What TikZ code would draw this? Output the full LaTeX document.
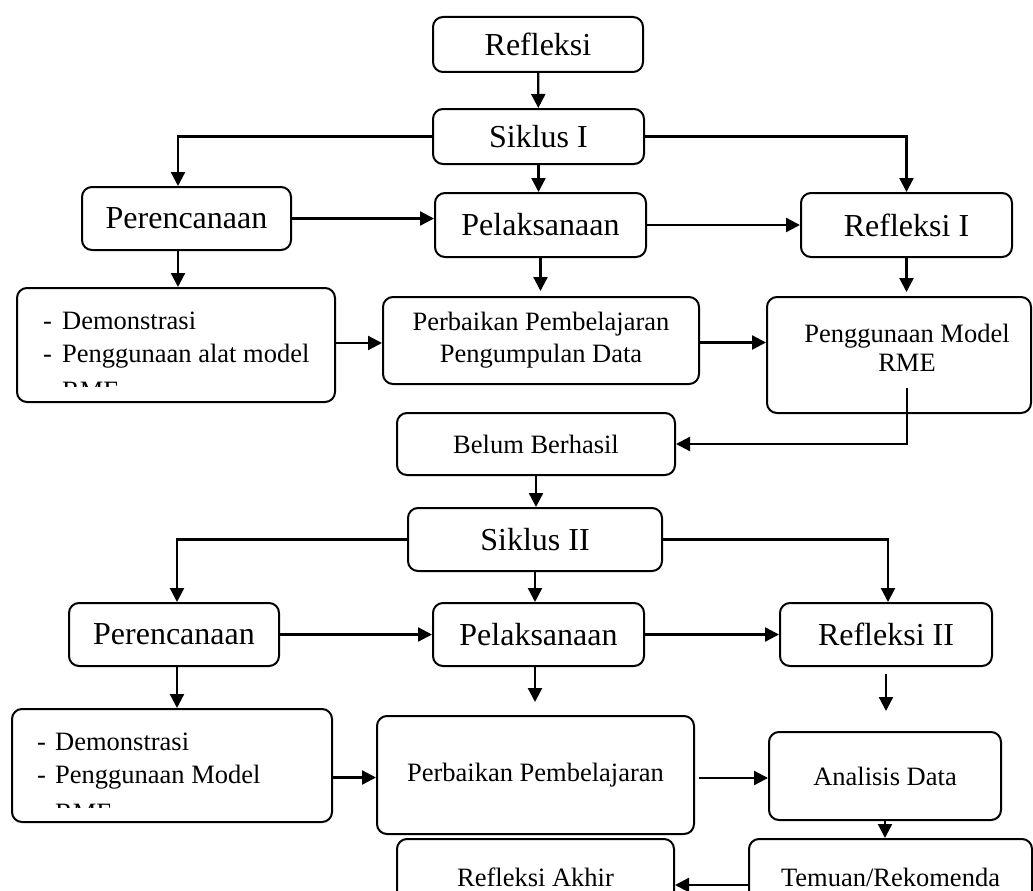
\documentclass[tikz,border=0pt]{standalone}
\usepackage{fontspec}
\setmainfont{Liberation Serif}
\usetikzlibrary{arrows.meta,positioning}

\begin{document}
\begin{tikzpicture}[x=1pt,y=-1pt]
\tikzstyle{box} = [rectangle, rounded corners=10pt, draw=black, line width=2pt, inner sep=0pt]
\tikzstyle{big} = [box, font=\fontsize{32}{38}\selectfont]
\tikzstyle{txt} = [align=center, inner sep=0pt, font=\fontsize{26.5}{32}\selectfont]
\tikzstyle{small} = [box, txt]
\tikzstyle{item} = [anchor=base west, inner sep=0pt, font=\fontsize{26.5}{32}\selectfont]
\tikzstyle{arrow} = [line width=2.3pt,-{Triangle[length=14pt,width=14pt]}]

\useasboundingbox (0,0) rectangle (1033,891);
\clip (0,0) rectangle (1033,891);
\fill[white] (0,0) rectangle (1033,891);

% siklus I
\node (refl) [big, minimum width=210pt, minimum height=55pt] at (538,44.5) {Refleksi};
\node (sik1) [big, minimum width=211pt, minimum height=55pt] at (538.5,136.5) {Siklus I};
\node (per1) [big, minimum width=209pt, minimum height=63pt] at (186.5,218.5) {Perencanaan};
\node (pel1) [big, minimum width=211pt, minimum height=64pt] at (540.5,225) {Pelaksanaan};
\node (ref1) [big, minimum width=211pt, minimum height=64pt] at (906.5,225) {Refleksi I};

\node (dem1) [box, minimum width=318pt, minimum height=114pt] at (176,345) {};
\begin{scope}
\clip (17,288) rectangle (335,386);
\foreach \y/\t [count=\i] in {329/Demonstrasi, 362/Penggunaan alat model}
  \node (dem1l\i) [item] at (43,\y) {\makebox[19pt][l]{-}\t};
\node (dem1l3) [item] at (62,399) {RME};
\end{scope}
\node (pp1) [small, minimum width=316pt, minimum height=87pt] at (541,340.5) {Perbaikan Pembelajaran\\Pengumpulan Data};
\node (rme) [box, minimum width=264pt, minimum height=116pt] at (899,355) {};
\node (rmetxt) [txt, font=\fontsize{26.5}{29}\selectfont] at (907,348) {Penggunaan Model\\RME};
\coordinate (rmeout) at (907,388);

\node (bb) [small, minimum width=278pt, minimum height=62pt] at (536,444) {Belum Berhasil};

% siklus II
\node (sik2) [big, minimum width=254pt, minimum height=63pt] at (535,539.5) {Siklus II};
\node (per2) [big, minimum width=210pt, minimum height=63pt] at (174,634.5) {Perencanaan};
\node (pel2) [big, minimum width=211pt, minimum height=63pt] at (538.5,634.5) {Pelaksanaan};
\node (ref2) [big, minimum width=212pt, minimum height=63pt] at (886,634.5) {Refleksi II};

\node (dem2) [box, minimum width=320pt, minimum height=113pt] at (172,765.5) {};
\begin{scope}
\clip (12,709) rectangle (332,807);
\foreach \y/\t [count=\i] in {750/Demonstrasi, 783/Penggunaan Model}
  \node (dem2l\i) [item] at (37,\y) {\makebox[18pt][l]{-}\t};
\node (dem2l3) [item] at (55,821) {RME};
\end{scope}
\node (pp2) [small, minimum width=317pt, minimum height=118pt] at (535.5,775) {Perbaikan Pembelajaran};
\node (ana) [small, minimum width=232pt, minimum height=88pt] at (885,776) {Analisis Data};
\node (akhir) [small, minimum width=277pt, minimum height=76pt] at (535.5,877) {Refleksi Akhir};
\node (tem) [small, minimum width=283pt, minimum height=76pt] at (890.5,877) {Temuan/Rekomenda};

% connectors siklus I
\draw [arrow] (refl) -- (sik1);
\draw [arrow] (sik1.west) -| ([xshift=-8.5pt]per1.north);
\draw [arrow] (sik1.south) -- (sik1.south |- pel1.north);
\draw [arrow] (sik1.east) -| (ref1.north);
\draw [arrow] (per1.east) -- (per1.east -| pel1.west);
\draw [arrow] (pel1.east) -- (pel1.east -| ref1.west);
\draw [arrow] ([xshift=-8.5pt]per1.south) -- ([xshift=-8.5pt]per1.south |- dem1.north);
\draw [arrow] (pel1.south) -- ([yshift=5pt]pel1.south |- pp1.north);
\draw [arrow] (ref1.south) -- ([yshift=4pt]ref1.south |- rme.north);
\draw [arrow] ([yshift=2pt]dem1.east) -- ([yshift=2pt]dem1.east -| pp1.west);
\draw [arrow] ([yshift=-2pt]pp1.east) -- ([yshift=-2pt]pp1.east -| rme.west);
\draw [arrow] (rmeout) |- (bb.east);
\draw [arrow] (bb.south) -- (bb.south |- sik2.north);

% connectors siklus II
\draw [arrow] (sik2.west) -| ([xshift=3pt]per2.north);
\draw [arrow] (sik2.south) -- (sik2.south |- pel2.north);
\draw [arrow] (sik2.east) -| ([xshift=2pt]ref2.north);
\draw [arrow] (per2.east) -- (per2.east -| pel2.west);
\draw [arrow] (pel2.east) -- (pel2.east -| ref2.west);
\draw [arrow] ([xshift=3pt]per2.south) -- ([xshift=3pt]per2.south |- dem2.north);
\draw [arrow] ([xshift=-3.5pt]pel2.south) -- ([xshift=-3.5pt,yshift=13pt]pel2.south |- pp2.north);
\draw [arrow] ([yshift=-7pt]ref2.south) -- ([yshift=20pt]ref2.south |- ana.north);
\draw [arrow] ([yshift=-12pt]dem2.east) -- ([yshift=-12pt]dem2.east -| pp2.west);
\draw [arrow] ([xshift=4pt,yshift=-3pt]pp2.east) -- ([yshift=-3pt]pp2.east -| ana.west);
\draw [arrow] (ana.south) -- (ana.south |- tem.north);
\draw [arrow] ([yshift=-8pt]tem.west) -- ([yshift=-8pt]tem.west -| akhir.east);
\end{tikzpicture}
\end{document}
